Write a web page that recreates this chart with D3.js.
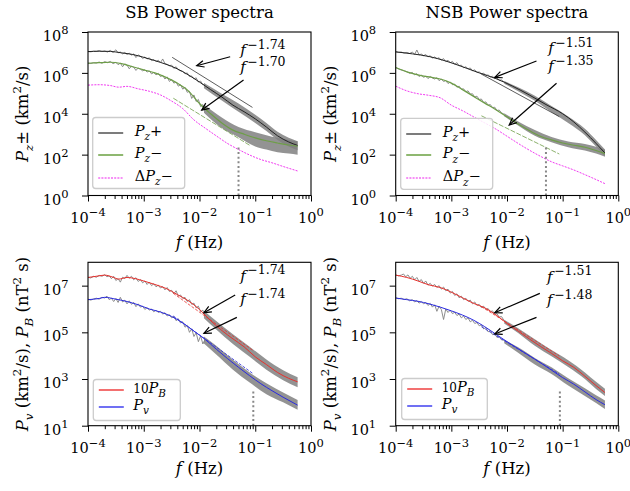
<!DOCTYPE html>
<html><head><meta charset="utf-8">
<script src="https://cdn.jsdelivr.net/npm/d3@7"></script>
<style>
body{margin:0;background:#fff;}
svg text{font-family:"DejaVu Serif",serif;fill:#000;}
</style></head><body>
<svg id="c" width="630" height="491"></svg>
<script>
// ---------- DATA (all values are [log10 f, log10 P]) ----------
const xTickValues = [1e-4, 1e-3, 1e-2, 1e-1, 1];
const xTickExps = ["−4", "−3", "−2", "−1", "0"];
const topYTicks = [1, 1e2, 1e4, 1e6, 1e8];
const topYExps = ["0", "2", "4", "6", "8"];
const botYTicks = [1e1, 1e3, 1e5, 1e7];
const botYExps = ["1", "3", "5", "7"];

// SB top
const sbPzPlus = [[-4,7.04],[-3.8,7.06],[-3.6,7.05],[-3.4,6.98],[-3.2,6.9],[-3.0,6.76],[-2.8,6.6],[-2.6,6.42],[-2.4,6.2],[-2.2,5.9],[-2.0,5.55],[-1.8,5.18],[-1.6,4.82],[-1.4,4.42],[-1.2,4.1],[-1.0,3.75],[-0.8,3.35],[-0.6,2.92],[-0.4,2.62],[-0.24,2.45]];
const sbPzMinus = [[-4,6.47],[-3.8,6.5],[-3.6,6.52],[-3.4,6.45],[-3.2,6.3],[-3.0,6.15],[-2.8,6.0],[-2.6,5.78],[-2.4,5.5],[-2.2,5.12],[-2.0,4.5],[-1.8,4.0],[-1.6,3.55],[-1.4,3.2],[-1.2,3.0],[-1.0,2.82],[-0.8,2.68],[-0.6,2.57],[-0.4,2.47],[-0.24,2.41]];
const sbDeltaPz = [[-4,5.4],[-3.8,5.42],[-3.6,5.38],[-3.45,5.3],[-3.3,5.34],[-3.1,5.22],[-2.9,5.1],[-2.7,4.92],[-2.5,4.62],[-2.3,4.25],[-2.1,3.7],[-1.9,3.3],[-1.7,2.92],[-1.5,2.55],[-1.3,2.25],[-1.1,1.98],[-0.9,1.76],[-0.7,1.6],[-0.5,1.42],[-0.24,1.2]];
const sbPzPlusRaw = [[-4.0,7.05],[-3.95,7.03],[-3.9,7.06],[-3.85,7.05],[-3.8,7.09],[-3.75,7.04],[-3.7,7.07],[-3.65,7.02],[-3.6,7.1],[-3.55,7.0],[-3.5,7.13],[-3.46,6.98],[-3.42,7.02],[-3.38,6.93],[-3.34,7.0],[-3.3,6.9],[-3.26,6.97],[-3.22,6.86],[-3.18,6.93],[-3.14,6.75],[-3.1,6.88],[-3.06,6.82],[-3.02,6.7],[-2.98,6.78],[-2.94,6.68],[-2.9,6.74],[-2.86,6.6],[-2.82,6.66],[-2.78,6.55],[-2.74,6.62],[-2.7,6.5],[-2.66,6.68],[-2.62,6.45],[-2.58,6.42],[-2.54,6.35],[-2.5,6.38],[-2.46,6.22],[-2.42,6.3],[-2.38,6.15],[-2.34,6.1],[-2.3,6.08],[-2.26,5.95],[-2.22,6.0],[-2.18,5.82],[-2.14,5.85],[-2.1,5.7],[-2.06,5.76],[-2.02,5.55],[-1.98,5.6],[-1.94,5.42],[-1.9,5.45]];
const sbPzPlusBand = [[-1.92,5.25,5.5],[-1.6,4.65,4.98],[-1.3,4.1,4.5],[-1.0,3.55,3.95],[-0.8,3.15,3.55],[-0.6,2.72,3.12],[-0.4,2.4,2.82],[-0.24,2.22,2.66]];
const sbPzMinusRaw = [[-4.0,6.48],[-3.95,6.46],[-3.9,6.5],[-3.85,6.48],[-3.8,6.53],[-3.75,6.47],[-3.7,6.55],[-3.65,6.5],[-3.6,6.56],[-3.55,6.45],[-3.5,6.52],[-3.46,6.4],[-3.42,6.48],[-3.38,6.3],[-3.34,6.44],[-3.3,6.38],[-3.26,6.2],[-3.22,6.33],[-3.18,6.28],[-3.14,6.12],[-3.1,6.24],[-3.06,6.18],[-3.02,6.1],[-2.98,6.15],[-2.94,6.04],[-2.9,6.1],[-2.86,5.95],[-2.82,6.02],[-2.78,5.9],[-2.74,5.98],[-2.7,5.82],[-2.66,5.88],[-2.62,5.7],[-2.58,5.8],[-2.54,5.58],[-2.5,5.68],[-2.46,5.5],[-2.42,5.55],[-2.38,5.35],[-2.34,5.42],[-2.3,5.2],[-2.26,5.3],[-2.22,5.05],[-2.18,5.1],[-2.14,4.75],[-2.1,4.92],[-2.06,4.6],[-2.02,4.7],[-1.98,4.35],[-1.94,4.45],[-1.9,4.2]];
const sbPzMinusBand = [[-1.92,4.05,4.45],[-1.6,3.3,3.82],[-1.3,2.85,3.35],[-1.0,2.4,3.1],[-0.8,2.25,2.95],[-0.6,2.12,2.82],[-0.4,2.05,2.72],[-0.24,2.0,2.66]];
const sbPzPlusFit = [[-2.49,6.76],[-1.05,4.31]];
const sbPzMinusFit = [[-2.47,4.76],[-1.09,2.44]];

// NSB top
const nsbPzPlus = [[-4,7.03],[-3.7,6.93],[-3.4,6.8],[-3.1,6.58],[-2.8,6.3],[-2.5,6.0],[-2.2,5.72],[-1.9,5.35],[-1.6,4.92],[-1.3,4.45],[-1.0,4.0],[-0.8,3.6],[-0.6,3.1],[-0.4,2.55],[-0.24,2.08]];
const nsbPzMinus = [[-4,6.26],[-3.8,6.05],[-3.6,5.9],[-3.4,5.8],[-3.2,5.7],[-3.0,5.5],[-2.8,5.18],[-2.6,4.85],[-2.4,4.52],[-2.2,4.2],[-2.0,3.85],[-1.8,3.5],[-1.6,3.18],[-1.4,2.9],[-1.2,2.72],[-1.0,2.57],[-0.8,2.46],[-0.6,2.36],[-0.4,2.2],[-0.24,2.05]];
const nsbDeltaPz = [[-4,5.35],[-3.8,5.12],[-3.6,4.98],[-3.4,4.9],[-3.2,4.78],[-3.0,4.42],[-2.8,4.15],[-2.6,3.85],[-2.4,3.55],[-2.2,3.25],[-2.0,2.9],[-1.8,2.55],[-1.6,2.22],[-1.4,1.92],[-1.2,1.65],[-1.0,1.45],[-0.8,1.25],[-0.6,1.02],[-0.4,0.78],[-0.24,0.58]];
const nsbPzPlusRaw = [[-4.0,7.03],[-3.95,7.0],[-3.9,7.02],[-3.85,6.97],[-3.8,7.0],[-3.75,6.95],[-3.7,7.02],[-3.66,6.9],[-3.62,7.12],[-3.58,6.88],[-3.54,6.92],[-3.5,6.84],[-3.46,6.9],[-3.42,6.78],[-3.38,6.84],[-3.34,6.72],[-3.3,6.78],[-3.26,6.7],[-3.22,6.74],[-3.18,6.62],[-3.14,6.7],[-3.1,6.55],[-3.06,6.62],[-3.02,6.5],[-2.98,6.56],[-2.94,6.42],[-2.9,6.5],[-2.86,6.35],[-2.82,6.38],[-2.78,6.25],[-2.74,6.3],[-2.7,6.2],[-2.66,6.24],[-2.62,6.1],[-2.58,6.15],[-2.54,6.02],[-2.5,6.05],[-2.46,5.95],[-2.42,5.99],[-2.38,5.88],[-2.34,5.9],[-2.3,5.8],[-2.26,5.84],[-2.22,5.72],[-2.18,5.75],[-2.14,5.64],[-2.1,5.66],[-2.05,5.55]];
const nsbPzPlusBand = [[-2.05,5.47,5.6],[-1.8,5.1,5.3],[-1.5,4.63,4.88],[-1.2,4.07,4.38],[-0.9,3.55,3.87],[-0.6,2.95,3.27],[-0.4,2.4,2.72],[-0.24,1.92,2.25]];
const nsbPzMinusRaw = [[-4.0,6.26],[-3.95,6.2],[-3.9,6.14],[-3.85,6.1],[-3.8,6.06],[-3.75,5.98],[-3.7,6.02],[-3.66,5.9],[-3.62,5.96],[-3.58,5.82],[-3.54,5.9],[-3.5,5.78],[-3.46,5.84],[-3.42,5.72],[-3.38,5.82],[-3.34,5.75],[-3.3,5.7],[-3.26,5.76],[-3.22,5.62],[-3.18,5.7],[-3.14,5.58],[-3.1,5.62],[-3.06,5.48],[-3.02,5.55],[-2.98,5.42],[-2.94,5.45],[-2.9,5.3],[-2.86,5.35],[-2.82,5.2],[-2.78,5.22],[-2.74,5.08],[-2.7,5.12],[-2.66,4.96],[-2.62,4.98],[-2.58,4.82],[-2.54,4.86],[-2.5,4.7],[-2.46,4.72],[-2.42,4.55],[-2.38,4.58],[-2.34,4.42],[-2.3,4.45],[-2.26,4.3],[-2.22,4.32],[-2.18,4.16],[-2.14,4.18],[-2.1,4.05],[-2.05,3.97]];
const nsbPzMinusBand = [[-2.05,3.88,4.03],[-1.8,3.42,3.62],[-1.5,2.92,3.2],[-1.2,2.6,2.86],[-0.9,2.36,2.64],[-0.6,2.2,2.52],[-0.4,2.05,2.38],[-0.24,1.9,2.24]];
const nsbPzPlusFit = [[-2.46,5.94],[-1.06,3.86]];
const nsbPzMinusFit = [[-2.46,3.90],[-1.06,2.03]];

// SB bottom
const sbPB10 = [[-4,7.35],[-3.8,7.42],[-3.7,7.45],[-3.55,7.36],[-3.45,7.28],[-3.3,7.35],[-3.15,7.3],[-3.0,7.2],[-2.8,7.05],[-2.6,6.88],[-2.4,6.62],[-2.2,6.35],[-2.0,5.98],[-1.8,5.5],[-1.6,5.08],[-1.4,4.72],[-1.2,4.38],[-1.0,3.95],[-0.8,3.62],[-0.6,3.28],[-0.4,3.03],[-0.24,2.88]];
const sbPv = [[-4,6.4],[-3.8,6.45],[-3.7,6.5],[-3.5,6.42],[-3.3,6.32],[-3.1,6.18],[-2.9,6.0],[-2.7,5.87],[-2.5,5.68],[-2.3,5.4],[-2.1,5.05],[-1.9,4.7],[-1.7,4.28],[-1.5,3.88],[-1.3,3.5],[-1.1,3.14],[-0.9,2.8],[-0.7,2.5],[-0.5,2.22],[-0.24,1.88]];
const sbPB10Raw = [[-4.0,7.36],[-3.95,7.33],[-3.9,7.4],[-3.85,7.36],[-3.8,7.44],[-3.75,7.4],[-3.7,7.47],[-3.66,7.38],[-3.62,7.42],[-3.58,7.3],[-3.54,7.4],[-3.5,7.22],[-3.46,7.3],[-3.42,7.15],[-3.38,7.36],[-3.34,7.3],[-3.3,7.44],[-3.26,7.32],[-3.22,7.4],[-3.18,7.25],[-3.14,7.34],[-3.1,7.18],[-3.06,7.26],[-3.02,7.12],[-2.98,7.2],[-2.94,7.05],[-2.9,7.15],[-2.86,7.0],[-2.82,7.08],[-2.78,6.95],[-2.74,7.02],[-2.7,6.9],[-2.66,6.96],[-2.62,6.82],[-2.58,6.92],[-2.54,6.75],[-2.5,6.8],[-2.46,6.65],[-2.42,6.78],[-2.38,6.55],[-2.34,6.6],[-2.3,6.45],[-2.26,6.5],[-2.22,6.32],[-2.18,6.4],[-2.14,6.2],[-2.1,6.25],[-2.06,6.05],[-2.02,6.12],[-1.98,5.88],[-1.94,5.95],[-1.9,5.72]];
const sbPB10Band = [[-1.92,5.6,5.92],[-1.7,5.12,5.48],[-1.4,4.5,4.92],[-1.1,3.95,4.38],[-0.8,3.4,3.84],[-0.5,2.95,3.38],[-0.24,2.65,3.08]];
const sbPvRaw = [[-4.0,6.42],[-3.95,6.38],[-3.9,6.43],[-3.85,6.46],[-3.8,6.42],[-3.75,6.5],[-3.7,6.47],[-3.66,6.55],[-3.62,6.4],[-3.58,6.46],[-3.54,6.32],[-3.5,6.45],[-3.46,6.28],[-3.42,6.5],[-3.38,6.3],[-3.34,6.38],[-3.3,6.22],[-3.26,6.35],[-3.22,6.2],[-3.18,6.28],[-3.14,6.1],[-3.1,6.22],[-3.06,6.08],[-3.02,6.12],[-2.98,5.98],[-2.94,6.06],[-2.9,5.95],[-2.86,6.0],[-2.82,5.88],[-2.78,5.95],[-2.74,5.85],[-2.7,5.9],[-2.66,5.78],[-2.62,5.84],[-2.58,5.7],[-2.54,5.76],[-2.5,5.62],[-2.46,5.68],[-2.42,5.5],[-2.38,5.58],[-2.34,5.4],[-2.3,5.45],[-2.26,5.22],[-2.22,5.3],[-2.18,5.0],[-2.14,5.15],[-2.1,4.82],[-2.06,4.98],[-2.02,4.6],[-1.98,4.85],[-1.94,4.5],[-1.9,4.7]];
const sbPvBand = [[-1.92,4.52,4.82],[-1.7,4.05,4.42],[-1.4,3.4,3.82],[-1.1,2.85,3.28],[-0.8,2.35,2.82],[-0.5,2.0,2.42],[-0.24,1.68,2.1]];
const sbPB10Fit = [[-2.47,6.67],[-1.05,4.24]];
const sbPvFit = [[-2.47,5.70],[-1.05,3.25]];

// NSB bottom
const nsbPB10 = [[-4,7.45],[-3.8,7.35],[-3.6,7.2],[-3.4,7.03],[-3.2,6.92],[-3.0,6.72],[-2.8,6.48],[-2.6,6.24],[-2.4,6.05],[-2.2,5.75],[-2.0,5.38],[-1.8,5.05],[-1.6,4.72],[-1.4,4.4],[-1.2,4.1],[-1.0,3.78],[-0.8,3.5],[-0.6,3.12],[-0.4,2.72],[-0.24,2.42]];
const nsbPv = [[-4,6.47],[-3.8,6.4],[-3.6,6.33],[-3.4,6.22],[-3.2,6.08],[-3.0,5.92],[-2.8,5.74],[-2.6,5.52],[-2.4,5.24],[-2.2,4.92],[-2.0,4.6],[-1.8,4.3],[-1.6,4.0],[-1.4,3.7],[-1.2,3.38],[-1.0,3.06],[-0.8,2.78],[-0.6,2.45],[-0.4,2.12],[-0.24,1.9]];
const nsbPB10Raw = [[-4.0,7.46],[-3.95,7.42],[-3.9,7.45],[-3.86,7.5],[-3.82,7.38],[-3.78,7.46],[-3.74,7.32],[-3.7,7.4],[-3.66,7.25],[-3.62,7.35],[-3.58,7.18],[-3.54,7.26],[-3.5,7.1],[-3.46,7.2],[-3.42,7.02],[-3.38,7.1],[-3.34,6.98],[-3.3,7.05],[-3.26,6.92],[-3.22,7.0],[-3.18,6.85],[-3.14,6.94],[-3.1,6.78],[-3.06,6.85],[-3.02,6.68],[-2.98,6.75],[-2.94,6.58],[-2.9,6.65],[-2.86,6.48],[-2.82,6.55],[-2.78,6.4],[-2.74,6.46],[-2.7,6.33],[-2.66,6.38],[-2.62,6.22],[-2.58,6.3],[-2.54,6.15],[-2.5,6.2],[-2.46,6.06],[-2.42,6.12],[-2.38,5.98],[-2.34,6.02],[-2.3,5.88],[-2.26,5.92],[-2.22,5.78],[-2.18,5.8],[-2.14,5.65],[-2.1,5.68],[-2.05,5.5]];
const nsbPB10Band = [[-2.05,5.38,5.54],[-1.8,4.97,5.18],[-1.5,4.42,4.7],[-1.2,3.97,4.24],[-0.9,3.52,3.8],[-0.6,3.0,3.28],[-0.4,2.57,2.88],[-0.24,2.27,2.58]];
const nsbPvRaw = [[-4.0,6.48],[-3.95,6.44],[-3.9,6.46],[-3.85,6.4],[-3.8,6.44],[-3.75,6.35],[-3.7,6.4],[-3.66,6.3],[-3.62,6.36],[-3.58,6.25],[-3.54,6.32],[-3.5,6.22],[-3.46,6.28],[-3.42,6.15],[-3.38,6.24],[-3.34,6.08],[-3.3,6.18],[-3.26,5.9],[-3.22,6.12],[-3.18,5.98],[-3.14,5.55],[-3.1,6.0],[-3.06,5.85],[-3.02,5.95],[-2.98,5.8],[-2.94,5.86],[-2.9,5.72],[-2.86,5.78],[-2.82,5.62],[-2.78,5.7],[-2.74,5.55],[-2.7,5.62],[-2.66,5.45],[-2.62,5.52],[-2.58,5.38],[-2.54,5.42],[-2.5,5.28],[-2.46,5.32],[-2.42,5.15],[-2.38,5.2],[-2.34,5.02],[-2.3,5.08],[-2.26,4.9],[-2.22,4.95],[-2.18,4.78],[-2.14,4.82],[-2.1,4.68],[-2.05,4.66]];
const nsbPvBand = [[-2.05,4.53,4.68],[-1.8,4.13,4.36],[-1.5,3.62,3.9],[-1.2,3.22,3.5],[-0.9,2.72,3.03],[-0.6,2.27,2.6],[-0.4,1.97,2.3],[-0.24,1.72,2.08]];
const nsbPB10Fit = [[-2.46,6.10],[-1.06,3.99]];
const nsbPvFit = [[-2.46,5.24],[-1.06,3.21]];

// annotations: exponent labels, [log f, log P] positions, arrows [tail, head]
const sbTopExps = ["−1.74", "−1.70"];
const nsbTopExps = ["−1.51", "−1.35"];
const sbBotExps = ["−1.74", "−1.74"];
const nsbBotExps = ["−1.51", "−1.48"];
const sbTopLabelPos = [[-1.27,6.87],[-1.27,6.04]];
const nsbTopLabelPos = [[-1.26,6.97],[-1.26,6.09]];
const sbBotLabelPos = [[-1.27,7.20],[-1.27,6.21]];
const nsbBotLabelPos = [[-1.28,7.17],[-1.28,6.17]];
const sbTopArrows = [[[-1.45,6.79],[-2.05,6.35]],[[-1.21,5.65],[-1.96,4.18]]];
const nsbTopArrows = [[[-1.47,6.58],[-2.22,5.78]],[[-1.11,5.49],[-1.96,3.45]]];
const sbBotArrows = [[[-1.36,6.60],[-1.92,5.84]],[[-1.33,5.64],[-1.92,4.96]]];
const nsbBotArrows = [[[-1.41,6.67],[-2.22,5.84]],[[-1.47,5.64],[-2.22,4.93]]];
// dotted markers: [log f, log P bottom, log P top]
const sbTopDotted = [-1.30, 0, 2.4];
const nsbTopDotted = [-1.30, 0, 2.4];
const sbBotDotted = [-1.035, 1, 2.53];
const nsbBotDotted = [-1.05, 1, 2.53];

// ---------- DRAWING ----------
const svg = d3.select("#c");
const GREEN = "#6e9e48", RED = "#e8302c", BLUE = "#2a2ae0", GRAY = "#808080", MAG = "#ee22ee";

function rich(sel, parts, size) {
  let off = 0;
  parts.forEach(p => {
    const s = p.sup ? -(p.raise || size * 0.45) : p.sub ? size * 0.3 : 0;
    const ts = sel.append("tspan").attr("dy", (s - off).toFixed(2)).text(p.t);
    off = s;
    if (p.sup || p.sub) ts.attr("font-size", p.fs || size * 0.72);
    else if (p.fs) ts.attr("font-size", p.fs);
    if (p.i) ts.attr("font-style", "italic");
    if (p.dx) ts.attr("dx", p.dx);
  });
}

function panel(cfg) {
  const x = d3.scaleLog().domain([1e-4, 1]).range([cfg.x0, cfg.x1]);
  const y = d3.scaleLog().domain(cfg.ydom).range([cfg.y1, cfg.y0]);
  const g = svg.append("g");
  const clipId = "clip" + cfg.id;
  svg.append("clipPath").attr("id", clipId).append("rect")
    .attr("x", cfg.x0).attr("y", cfg.y0).attr("width", cfg.x1 - cfg.x0).attr("height", cfg.y1 - cfg.y0);
  const pg = g.append("g").attr("clip-path", `url(#${clipId})`);
  const line = d3.line().x(d => x(10 ** d[0])).y(d => y(10 ** d[1]));
  const area = d3.area().x(d => x(10 ** d[0])).y0(d => y(10 ** d[1])).y1(d => y(10 ** d[2])).curve(d3.curveMonotoneX);

  // raw gray
  cfg.series.forEach(s => {
    pg.append("path").datum(s.band).attr("d", area).attr("fill", GRAY).attr("fill-opacity", 0.85);
    pg.append("path").datum(s.raw).attr("d", line).attr("fill", "none").attr("stroke", GRAY).attr("stroke-width", 0.9);
  });
  // extra (delta) lines
  (cfg.extra || []).forEach(s => {
    pg.append("path").datum(s.data).attr("d", line.curve(d3.curveMonotoneX)).attr("fill", "none")
      .attr("stroke", s.color).attr("stroke-width", s.w).attr("stroke-dasharray", s.dash || null);
  });
  // smooth lines
  cfg.series.forEach(s => {
    pg.append("path").datum(s.smooth).attr("d", line.curve(d3.curveMonotoneX)).attr("fill", "none")
      .attr("stroke", s.color).attr("stroke-width", s.w).attr("stroke-opacity", s.op || 1);
  });
  line.curve(d3.curveLinear);
  // fits
  cfg.series.forEach(s => {
    pg.append("path").datum(s.fit).attr("d", line).attr("fill", "none")
      .attr("stroke", s.fitColor).attr("stroke-width", 0.8).attr("stroke-dasharray", s.fitDash || null);
  });
  // dotted marker
  const dm = cfg.dotted;
  pg.append("line").attr("x1", x(10 ** dm[0])).attr("x2", x(10 ** dm[0]))
    .attr("y1", y(10 ** dm[1])).attr("y2", y(10 ** dm[2]))
    .attr("stroke", "#888").attr("stroke-width", 2).attr("stroke-dasharray", "2,2.6");

  // arrows
  cfg.arrows.forEach(a => {
    const tx = x(10 ** a[0][0]), ty = y(10 ** a[0][1]);
    const hx = x(10 ** a[1][0]), hy = y(10 ** a[1][1]);
    const ang = Math.atan2(hy - ty, hx - tx);
    g.append("line").attr("x1", tx).attr("y1", ty).attr("x2", hx).attr("y2", hy)
      .attr("stroke", "#000").attr("stroke-width", 1.2);
    const L = 8, A = 0.42;
    const p1 = [hx - L * Math.cos(ang - A), hy - L * Math.sin(ang - A)];
    const p2 = [hx - L * Math.cos(ang + A), hy - L * Math.sin(ang + A)];
    g.append("path").attr("d", `M${p1}L${hx},${hy}L${p2}`).attr("fill", "none")
      .attr("stroke", "#000").attr("stroke-width", 1.2);
  });
  // exponent labels
  cfg.labelPos.forEach((p, i) => {
    const t = g.append("text").attr("x", x(10 ** p[0])).attr("y", y(10 ** p[1])).attr("font-size", 15);
    rich(t, [{t: "f", i: true}, {t: cfg.exps[i], sup: true, fs: 12.5, raise: 6.5, dx: 1.5}], 15);
  });

  // frame
  g.append("rect").attr("x", cfg.x0).attr("y", cfg.y0).attr("width", cfg.x1 - cfg.x0).attr("height", cfg.y1 - cfg.y0)
    .attr("fill", "none").attr("stroke", "#000").attr("stroke-width", 1.1);

  // axes ticks
  const minors = [];
  for (let e = -4; e < 0; e++) for (let k = 2; k < 10; k++) minors.push(k * 10 ** e);
  const xa = g.append("g").attr("transform", `translate(0,${cfg.y1})`)
    .call(d3.axisBottom(x).tickValues(xTickValues).tickSize(6).tickFormat(""));
  const xm = g.append("g").attr("transform", `translate(0,${cfg.y1})`)
    .call(d3.axisBottom(x).tickValues(minors).tickSize(3.5).tickFormat(""));
  const ya = g.append("g").attr("transform", `translate(${cfg.x0},0)`)
    .call(d3.axisLeft(y).tickValues(cfg.yticks).tickSize(6).tickFormat(""));
  [xa, xm, ya].forEach(a => { a.select(".domain").remove(); a.selectAll("line").attr("stroke", "#000").attr("stroke-width", 1); });

  xTickValues.forEach((v, i) => {
    const t = g.append("text").attr("x", x(v)).attr("y", cfg.y1 + 27.5).attr("text-anchor", "middle").attr("font-size", 14.5);
    rich(t, [{t: "10"}, {t: xTickExps[i], sup: true, fs: 11.5}], 14.5);
  });
  cfg.yticks.forEach((v, i) => {
    const t = g.append("text").attr("x", cfg.x0 - 19.5).attr("y", y(v) + 9).attr("text-anchor", "end").attr("font-size", 14.5);
    rich(t, [{t: "10"}, {t: cfg.yexps[i], sup: true, fs: 11.5}], 14.5);
  });

  // x label
  const xl = g.append("text").attr("x", (cfg.x0 + cfg.x1) / 2).attr("y", cfg.xlabelY).attr("text-anchor", "middle").attr("font-size", 16.5);
  rich(xl, [{t: "f", i: true}, {t: " (Hz)"}], 16.5);
  // y label
  const yl = g.append("text").attr("transform", `translate(${cfg.ylabelX},${(cfg.y0 + cfg.y1) / 2}) rotate(-90)`)
    .attr("text-anchor", "middle").attr("font-size", 16.5);
  rich(yl, cfg.ylabel, 16.5);
  // title
  if (cfg.title) g.append("text").attr("x", (cfg.x0 + cfg.x1) / 2).attr("y", 18).attr("text-anchor", "middle")
    .attr("font-size", 16.5).text(cfg.title);

  // legend
  const lg = cfg.legend;
  g.append("rect").attr("x", lg.box[0]).attr("y", lg.box[1]).attr("width", lg.box[2]).attr("height", lg.box[3])
    .attr("rx", 3).attr("fill", "#fff").attr("fill-opacity", 0.85).attr("stroke", "#ccc").attr("stroke-width", 1.3);
  lg.items.forEach(it => {
    const ly = Math.round(it.y);
    g.append("line").attr("x1", lg.box[0] + 5.5).attr("x2", lg.box[0] + 30.5).attr("y1", ly).attr("y2", ly)
      .attr("stroke", it.color).attr("stroke-width", it.w).attr("stroke-opacity", it.op || 1)
      .attr("stroke-dasharray", it.dash || null);
    const t = g.append("text").attr("x", lg.box[0] + lg.tx).attr("y", it.y + 3).attr("font-size", 14.5);
    rich(t, it.label, 14.5);
  });
}

const pzLabel = [{t: "P", i: true}, {t: "z", i: true, sub: true}, {t: "± (km"}, {t: "2", sup: true}, {t: "/s)"}];
const pvLabel = [{t: "P", i: true}, {t: "v", i: true, sub: true}, {t: " (km"}, {t: "2", sup: true}, {t: "/s), "},
  {t: "P", i: true}, {t: "B", i: true, sub: true}, {t: " (nT"}, {t: "2", sup: true}, {t: " s)"}];
const topLegend = (bx, by) => ({
  box: [bx, by, 92, 71], tx: 42,
  items: [
    {y: by + 15.5, color: "#111", w: 1.1, label: [{t: "P", i: true}, {t: "z", i: true, sub: true}, {t: "+"}]},
    {y: by + 37, color: "#8fb870", w: 2, label: [{t: "P", i: true}, {t: "z", i: true, sub: true}, {t: "−"}]},
    {y: by + 60, color: MAG, w: 1.1, dash: "2,1.2", label: [{t: "Δ"}, {t: "P", i: true}, {t: "z", i: true, sub: true}, {t: "−"}]}
  ]
});
const botLegend = (bx, by, w) => ({
  box: [bx, by, w, 41], tx: 40,
  items: [
    {y: by + 10.5, color: "#ee3333", w: 1.4, label: [{t: "10", fs: 12}, {t: "P", i: true}, {t: "B", i: true, sub: true}]},
    {y: by + 27, color: "#3333ee", w: 1.4, label: [{t: "P", i: true}, {t: "v", i: true, sub: true}]}
  ]
});

panel({
  id: 1, x0: 88, x1: 311, y0: 32, y1: 195.5, ydom: [1, 1e8], yticks: topYTicks, yexps: topYExps,
  title: "SB Power spectra", xlabelY: 248, ylabelX: 28, ylabel: pzLabel,
  series: [
    {raw: sbPzPlusRaw, band: sbPzPlusBand, smooth: sbPzPlus, color: "#222", w: 1, fit: sbPzPlusFit, fitColor: "#333"},
    {raw: sbPzMinusRaw, band: sbPzMinusBand, smooth: sbPzMinus, color: GREEN, w: 1.2, fit: sbPzMinusFit, fitColor: GREEN, fitDash: "5,1.5"}
  ],
  extra: [{data: sbDeltaPz, color: MAG, w: 0.9, dash: "2,1.2"}],
  dotted: sbTopDotted, arrows: sbTopArrows, labelPos: sbTopLabelPos, exps: sbTopExps,
  legend: topLegend(92.7, 117.5)
});
panel({
  id: 2, x0: 395.7, x1: 618.3, y0: 32, y1: 195.5, ydom: [1, 1e8], yticks: topYTicks, yexps: topYExps,
  title: "NSB Power spectra", xlabelY: 248, ylabelX: 336, ylabel: pzLabel,
  series: [
    {raw: nsbPzPlusRaw, band: nsbPzPlusBand, smooth: nsbPzPlus, color: "#222", w: 1, fit: nsbPzPlusFit, fitColor: "#333"},
    {raw: nsbPzMinusRaw, band: nsbPzMinusBand, smooth: nsbPzMinus, color: GREEN, w: 1.2, fit: nsbPzMinusFit, fitColor: GREEN, fitDash: "5,1.5"}
  ],
  extra: [{data: nsbDeltaPz, color: MAG, w: 0.9, dash: "2,1.2"}],
  dotted: nsbTopDotted, arrows: nsbTopArrows, labelPos: nsbTopLabelPos, exps: nsbTopExps,
  legend: topLegend(400.7, 118.3)
});
panel({
  id: 3, x0: 88, x1: 311, y0: 262.3, y1: 425.7, ydom: [10, 1e8], yticks: botYTicks, yexps: botYExps,
  xlabelY: 474, ylabelX: 28, ylabel: pvLabel,
  series: [
    {raw: sbPB10Raw, band: sbPB10Band, smooth: sbPB10, color: RED, w: 1, fit: sbPB10Fit, fitColor: RED, fitDash: "3,1.5"},
    {raw: sbPvRaw, band: sbPvBand, smooth: sbPv, color: BLUE, w: 1, fit: sbPvFit, fitColor: BLUE, fitDash: "3,1.5"}
  ],
  dotted: sbBotDotted, arrows: sbBotArrows, labelPos: sbBotLabelPos, exps: sbBotExps,
  legend: botLegend(93.3, 379.5, 87)
});
panel({
  id: 4, x0: 395.7, x1: 618.3, y0: 262.3, y1: 425.7, ydom: [10, 1e8], yticks: botYTicks, yexps: botYExps,
  xlabelY: 474, ylabelX: 336, ylabel: pvLabel,
  series: [
    {raw: nsbPB10Raw, band: nsbPB10Band, smooth: nsbPB10, color: RED, w: 1, fit: nsbPB10Fit, fitColor: RED, fitDash: "3,1.5"},
    {raw: nsbPvRaw, band: nsbPvBand, smooth: nsbPv, color: BLUE, w: 1, fit: nsbPvFit, fitColor: BLUE, fitDash: "3,1.5"}
  ],
  dotted: nsbBotDotted, arrows: nsbBotArrows, labelPos: nsbBotLabelPos, exps: nsbBotExps,
  legend: botLegend(401.7, 378.5, 85.6)
});
</script>
</body></html>
